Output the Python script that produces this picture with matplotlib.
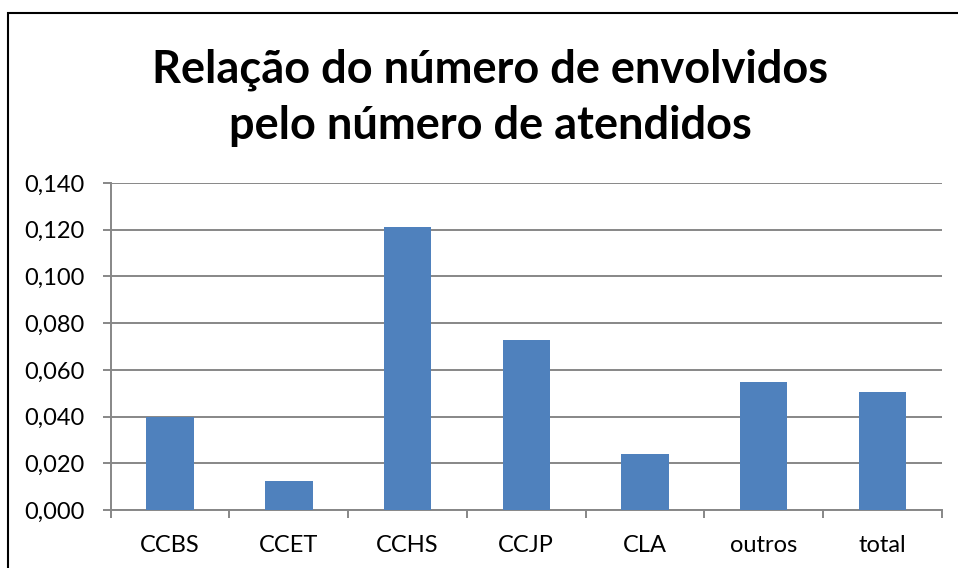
import matplotlib.pyplot as plt
from matplotlib.ticker import FixedLocator, FuncFormatter
from matplotlib.patches import Rectangle

# dados
categorias = ['CCBS', 'CCET', 'CCHS', 'CCJP', 'CLA', 'outros', 'total']
valores = [0.0400, 0.0124, 0.1213, 0.0730, 0.0240, 0.0549, 0.0506]
ticks_y = [0.000, 0.020, 0.040, 0.060, 0.080, 0.100, 0.120, 0.140]

plt.rcParams['font.family'] = ['Lato', 'DejaVu Sans']

fig = plt.figure(figsize=(9.58, 5.68), dpi=100)
ax = fig.add_axes([0.1156, 0.1021, 0.8675, 0.5757])

x = range(len(categorias))
ax.bar(x, valores, width=0.4, color='#4F81BD', zorder=3)

ax.set_xlim(-0.5, len(categorias) - 0.5)
ax.set_ylim(0, 0.14)
ax.set_yticks(ticks_y)
ax.yaxis.set_major_formatter(FuncFormatter(lambda v, p: f'{v:.3f}'.replace('.', ',')))
ax.grid(axis='y', color='#878787', linewidth=1.4, zorder=0)

# rotulos das categorias e tracinhos entre elas
ax.set_xticks(list(x))
ax.set_xticklabels(categorias)
ax.xaxis.set_minor_locator(FixedLocator([i - 0.5 for i in range(len(categorias) + 1)]))
ax.tick_params(axis='x', which='major', length=0, pad=18, labelsize=17)
ax.tick_params(axis='x', which='minor', length=6, width=1.4, color='#878787')
ax.tick_params(axis='y', length=6, width=1.4, color='#878787', labelsize=17, pad=13)

for lado in ['top', 'right']:
    ax.spines[lado].set_visible(False)
for lado in ['left', 'bottom']:
    ax.spines[lado].set_color('#878787')
    ax.spines[lado].set_linewidth(1.4)

fig.text(0.512, 0.828, 'Relação do número de envolvidos\npelo número de atendidos',
         ha='center', va='center', fontsize=32.5, fontweight='bold', linespacing=1.43)

# moldura
fig.patches.append(Rectangle((8 / 958, -0.1), 1.2, 1.1 - 13 / 568, transform=fig.transFigure,
                             fill=False, edgecolor='black', linewidth=1.5))

fig.savefig('out.png', dpi=100)
